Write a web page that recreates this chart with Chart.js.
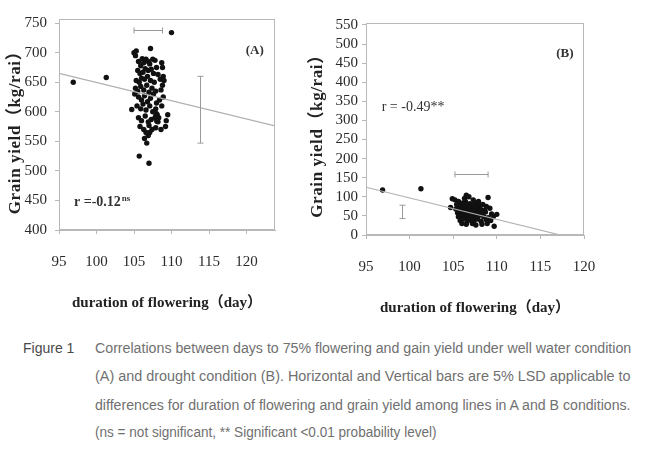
<!DOCTYPE html>
<html>
<head>
<meta charset="utf-8">
<script src="https://cdn.jsdelivr.net/npm/chart.js@4.4.1/dist/chart.umd.min.js"></script>
<style>
  body { margin: 0; background: #fff; }
  #wrap { position: relative; width: 650px; height: 450px; overflow: hidden; background: #fff; }
  #chartA { position: absolute; left: 0; top: 0; }
  #chartB { position: absolute; left: 290px; top: 0; }
  .cap { position: absolute; font-family: 'Liberation Sans', Arial, sans-serif; font-size: 14px;
         line-height: 20px; color: #707070; white-space: nowrap; transform-origin: 0 50%; }
</style>
</head>
<body>
<div id="wrap">
  <canvas id="chartA" width="325" height="320"></canvas>
  <canvas id="chartB" width="360" height="320"></canvas>
  <div class="cap" style="left:23px;top:338px;color:#4a4a4a">Figure 1</div>
  <div class="cap" data-w="536" style="left:95px;top:338px">Correlations between days to 75% flowering and gain yield under well water condition</div>
  <div class="cap" data-w="536" style="left:95px;top:366px">(A) and drought condition (B). Horizontal and Vertical bars are 5% LSD applicable to</div>
  <div class="cap" data-w="536" style="left:95px;top:395px">differences for duration of flowering and grain yield among lines in A and B conditions.</div>
  <div class="cap" data-w="342" style="left:95px;top:422px">(ns = not significant, ** Significant &lt;0.01 probability level)</div>
</div>
<script>
// axis ticks
var dayTicks = [95, 100, 105, 110, 115, 120];
var yieldTicksA = [400, 450, 500, 550, 600, 650, 700, 750];
var yieldTicksB = [0, 50, 100, 150, 200, 250, 300, 350, 400, 450, 500, 550];

// (A) well water: days to flowering / grain yield
var daysA = [96.9, 101.3, 110.0, 107.2, 105.0, 105.2, 105.3, 104.7, 105.7, 107.0,
  105.6, 105.9, 106.1, 106.3, 106.6, 106.9, 107.1, 107.5, 107.8, 108.0, 108.7, 108.8,
  105.5, 105.8, 106.2, 106.5, 106.9, 107.3, 107.6, 108.2,
  105.3, 105.7, 106.0, 106.4, 106.8, 107.2, 107.7, 108.5, 108.9, 109.0,
  105.2, 105.5, 105.9, 106.3, 106.7, 107.0, 107.4, 107.9, 108.6, 108.8,
  105.1, 105.6, 106.0, 106.4, 106.8, 107.2, 107.6, 108.0, 108.4, 108.9,
  105.4, 105.9, 106.2, 106.6, 107.1, 107.5, 107.9, 108.1, 108.3, 108.7,
  105.6, 106.0, 106.5, 106.9, 107.3, 107.8, 108.2, 109.3, 109.5, 109.2,
  105.8, 106.3, 106.6, 107.0, 107.4, 107.9, 108.6,
  106.4, 106.7, 106.9, 107.1,
  107.9, 108.1, 107.95, 108.05];
var yieldA = [650, 658, 734, 707, 700, 695, 703, 604, 525, 513,
  685, 678, 690, 683, 689, 685, 681, 689, 687, 675, 683, 675,
  670, 665, 667, 673, 670, 672, 665, 663,
  653, 650, 657, 655, 660, 653, 650, 655, 660, 653,
  640, 635, 643, 637, 645, 633, 640, 635, 637, 645,
  630, 625, 620, 627, 617, 623, 630, 615, 620, 625,
  610, 605, 613, 603, 610, 600, 605, 595, 590, 610,
  590, 585, 593, 583, 587, 590, 583, 585, 595, 575,
  575, 570, 565, 577, 570, 573, 570,
  555, 547, 560, 565,
  592, 588, 597, 584];

// (B) drought
var daysB = [96.9, 101.3, 109.0, 104.9, 104.7, 106.5, 110.0, 109.7,
  105.2, 105.6, 106.3, 106.8, 107.3, 107.9,
  105.4, 105.8, 106.1, 106.5, 106.9, 107.2, 107.6, 108.0, 108.4, 108.8,
  105.3, 105.7, 106.0, 106.3, 106.6, 107.0, 107.4, 107.8, 108.1, 108.6, 109.2,
  105.5, 105.9, 106.2, 106.5, 106.8, 107.1, 107.5, 107.9, 108.3, 108.7, 109.4,
  105.6, 106.0, 106.4, 106.7, 107.0, 107.3, 107.7, 108.0, 108.5, 109.0, 109.6,
  105.8, 106.1, 106.6, 106.9, 107.4, 107.8, 108.2, 108.8, 109.3,
  106.0, 106.5, 107.2, 107.6, 108.3, 108.9,
  106.2, 106.8, 107.1, 107.7, 108.2, 106.4, 107.0, 107.5];
var yieldB = [118, 121, 98, 95, 72, 104, 54, 23,
  92, 88, 96, 100, 92, 88,
  80, 78, 84, 76, 82, 79, 84, 77, 80, 75,
  68, 70, 65, 71, 67, 70, 66, 72, 68, 65, 70,
  58, 60, 55, 62, 57, 60, 55, 61, 57, 60, 55,
  48, 50, 45, 52, 47, 50, 46, 52, 48, 45, 48,
  38, 42, 36, 40, 38, 42, 36, 40, 38,
  30, 28, 30, 26, 28, 30,
  74, 63, 53, 58, 64, 88, 44, 73];

// fitted lines
var trendDaysA = [95, 123.8];
var trendYieldA = [665, 576];
var trendDaysB = [95, 117.3];
var trendYieldB = [125, 0];

// 5% LSD bars
var lsdDayA = [105.0, 108.8];   var lsdDayAtA = 738;
var lsdYieldA = [547, 660];     var lsdYieldAtA = 113.8;
var lsdDayB = [105.2, 109.0];   var lsdDayAtB = 160;
var lsdYieldB = [43, 78];       var lsdYieldAtB = 99.1;

function pts(xs, ys) {
  return xs.map(function(x, i) { return {x: x, y: ys[i]}; });
}

var serif = '"Liberation Serif", "Times New Roman", serif';
var titleFont = {family: '"Liberation Serif", "Noto Sans CJK SC", serif', size: 15, weight: 'bold'};
var yTitleFont = 'bold 17px "Liberation Serif", "Noto Sans CJK SC", serif';
var frameColor = '#b8b8b8';

var notesPlugin = {
  id: 'notes',
  afterDatasetsDraw: function(chart, args, o) {
    var ctx = chart.ctx, xs = chart.scales.x, ys = chart.scales.y, a = chart.chartArea;
    ctx.save();
    ctx.strokeStyle = frameColor;
    ctx.lineWidth = 1;
    ctx.strokeRect(a.left + 0.5, a.top + 0.5, a.right - a.left - 1, a.bottom - a.top - 1);

    function seg(x1, y1, x2, y2) {
      ctx.beginPath(); ctx.moveTo(x1, y1); ctx.lineTo(x2, y2); ctx.stroke();
    }
    ctx.strokeStyle = '#9a9a9a';
    var hx1 = xs.getPixelForValue(o.hDays[0]), hx2 = xs.getPixelForValue(o.hDays[1]);
    var hy = Math.round(ys.getPixelForValue(o.hAt)) + 0.5;
    seg(hx1, hy, hx2, hy); seg(hx1, hy - 3, hx1, hy + 3); seg(hx2, hy - 3, hx2, hy + 3);
    var vx = Math.round(xs.getPixelForValue(o.vAt)) + 0.5;
    var vy1 = ys.getPixelForValue(o.vYield[0]), vy2 = ys.getPixelForValue(o.vYield[1]);
    seg(vx, vy1, vx, vy2); seg(vx - 3, vy1, vx + 3, vy1); seg(vx - 3, vy2, vx + 3, vy2);

    ctx.fillStyle = '#333';
    ctx.textBaseline = 'middle';
    o.texts.forEach(function(t) {
      var px = xs.getPixelForValue(t.x), py = ys.getPixelForValue(t.y);
      ctx.font = t.font;
      ctx.textAlign = t.align;
      ctx.fillText(t.text, px, py);
      if (t.sup) {
        var w = ctx.measureText(t.text).width;
        ctx.font = t.supFont;
        ctx.textAlign = 'left';
        ctx.fillText(t.sup, px + w + 1, py - 4);
      }
    });

    // y axis title, letter-spaced like the original
    ctx.translate(o.yTitleX, (a.top + a.bottom) / 2 + o.yTitleShift);
    ctx.rotate(-Math.PI / 2);
    ctx.font = yTitleFont;
    ctx.fillStyle = '#222';
    ctx.textAlign = 'center';
    ctx.letterSpacing = '0.6px';
    ctx.fillText('Grain yield（kg/rai）', 0, 0);
    ctx.restore();
  }
};

function makeChart(id, cfg) {
  return new Chart(document.getElementById(id), {
    type: 'scatter',
    data: {
      datasets: [
        {
          type: 'line',
          data: pts(cfg.trendX, cfg.trendY),
          borderColor: '#b0b0b0',
          borderWidth: 1.2,
          pointRadius: 0,
          fill: false
        },
        {
          data: pts(cfg.x, cfg.y),
          backgroundColor: '#111',
          borderWidth: 0,
          pointRadius: 2.7
        }
      ]
    },
    options: {
      responsive: false,
      animation: false,
      layout: {padding: cfg.pad},
      plugins: {
        legend: {display: false},
        tooltip: {enabled: false},
        notes: cfg.notes
      },
      scales: {
        x: {
          type: 'linear',
          min: cfg.xMin,
          max: cfg.xMax,
          afterBuildTicks: function(axis) { axis.ticks = dayTicks.map(function(v) { return {value: v}; }); },
          afterFit: function(axis) { axis.height = cfg.xHeight; },
          border: {color: frameColor},
          grid: {drawOnChartArea: false, drawTicks: true, tickLength: 4, color: frameColor},
          ticks: {autoSkip: false, maxRotation: 0, padding: cfg.xTickPad, color: '#2a2a2a',
                  font: {family: serif, size: 15}},
          title: {display: true, text: 'duration of flowering（day）', color: '#222',
                  font: titleFont, padding: {top: 0, bottom: cfg.xTitlePad}}
        },
        y: {
          type: 'linear',
          min: cfg.yMin,
          max: cfg.yMax,
          afterBuildTicks: function(axis) { axis.ticks = cfg.yTicks.map(function(v) { return {value: v}; }); },
          afterFit: function(axis) { axis.width = cfg.yWidth; },
          border: {color: frameColor},
          grid: {drawOnChartArea: false, drawTicks: true, tickLength: 4, color: frameColor},
          ticks: {autoSkip: false, padding: cfg.yTickPad, color: '#2a2a2a',
                  font: {family: serif, size: 15}},
          title: {display: false}
        }
      }
    },
    plugins: [notesPlugin]
  });
}

makeChart('chartA', {
  x: daysA, y: yieldA, trendX: trendDaysA, trendY: trendYieldA,
  xMin: 95, xMax: 123.8, yMin: 400, yMax: 757, yTicks: yieldTicksA,
  pad: {top: 19, right: 50, left: 0, bottom: 0},
  xHeight: 90, yWidth: 59, xTickPad: 19, yTickPad: 8, xTitlePad: 8,
  notes: {
    hDays: lsdDayA, hAt: lsdDayAtA, vYield: lsdYieldA, vAt: lsdYieldAtA,
    yTitleX: 16, yTitleShift: 4,
    texts: [
      {text: '(A)', x: 121.1, y: 704, align: 'center', font: 'bold 13px ' + serif},
      {text: 'r =-0.12', x: 97, y: 447, align: 'left', font: 'bold 14px ' + serif,
       sup: 'ns', supFont: 'bold 9px ' + serif}
    ]
  }
});

makeChart('chartB', {
  x: daysB, y: yieldB, trendX: trendDaysB, trendY: trendYieldB,
  xMin: 95, xMax: 120, yMin: 0, yMax: 555, yTicks: yieldTicksB,
  pad: {top: 23, right: 66, left: 0, bottom: 0},
  xHeight: 85, yWidth: 76, xTickPad: 19, yTickPad: 4, xTitlePad: 3,
  notes: {
    hDays: lsdDayB, hAt: lsdDayAtB, vYield: lsdYieldB, vAt: lsdYieldAtB,
    yTitleX: 28, yTitleShift: 3,
    texts: [
      {text: '(B)', x: 117.8, y: 476, align: 'center', font: 'bold 13px ' + serif},
      {text: 'r = -0.49**', x: 96.8, y: 335, align: 'left', font: '14px ' + serif}
    ]
  }
});

// squeeze caption lines to the width they take in the figure
document.querySelectorAll('.cap[data-w]').forEach(function(el) {
  var w = +el.getAttribute('data-w');
  el.style.transform = 'scaleX(' + (w / el.offsetWidth) + ')';
});
</script>
</body>
</html>
